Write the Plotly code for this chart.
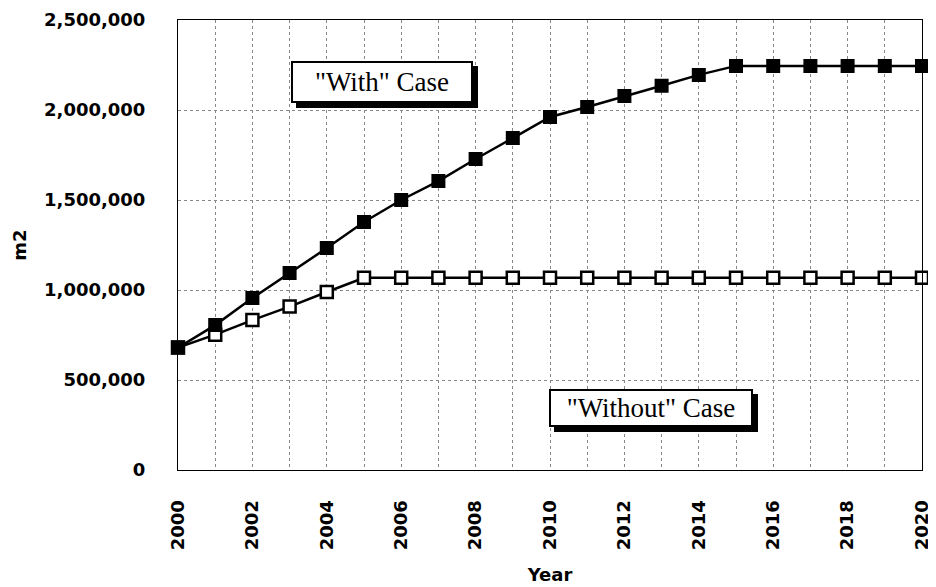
import plotly.graph_objects as go

years = list(range(2000, 2021))
with_case = [680000, 805000, 955000, 1094000, 1233000, 1378000, 1500000, 1605000,
             1728000, 1844000, 1961000, 2017000, 2078000, 2135000, 2195000, 2245000,
             2245000, 2245000, 2245000, 2245000, 2245000]
without_case = [680000, 752000, 833000, 908000, 989000, 1068000, 1068000, 1068000,
                1068000, 1068000, 1068000, 1068000, 1068000, 1068000, 1068000, 1068000,
                1068000, 1068000, 1068000, 1068000, 1068000]
x_ticks = list(range(2000, 2021, 2))
y_ticks = [0, 500000, 1000000, 1500000, 2000000, 2500000]

fig = go.Figure()
fig.add_trace(go.Scatter(
    x=years, y=without_case, mode="lines+markers", name='"Without" Case',
    line=dict(color="black", width=2.5),
    marker=dict(symbol="square", size=12, color="white", line=dict(color="black", width=2.5)),
    cliponaxis=False))
fig.add_trace(go.Scatter(
    x=years, y=with_case, mode="lines+markers", name='"With" Case',
    line=dict(color="black", width=2.5),
    marker=dict(symbol="square", size=12, color="black", line=dict(color="black", width=2)),
    cliponaxis=False))

boxes = [('"With" Case', 0.274, 0.862, 178, 38), ('"Without" Case', 0.636, 0.138, 200, 34)]
for text, bx, by, w, h in boxes:
    fig.add_annotation(xref="paper", yref="paper", x=bx, y=by, xanchor="center", yanchor="middle",
                       text=" ", showarrow=False,
                       width=w, height=h, bgcolor="black", bordercolor="black", borderwidth=2,
                       borderpad=0, xshift=5, yshift=-5)
    fig.add_annotation(xref="paper", yref="paper", x=bx, y=by, xanchor="center", yanchor="middle",
                       text=text, showarrow=False,
                       width=w, height=h, bgcolor="white", bordercolor="black", borderwidth=2,
                       borderpad=0, font=dict(family="Liberation Serif", size=27, color="black"))

fig.update_layout(
    width=928, height=579,
    margin=dict(l=170, r=14, t=12, b=117),
    paper_bgcolor="white", plot_bgcolor="white",
    showlegend=False,
    font=dict(family="DejaVu Sans", color="black"),
    xaxis=dict(range=[2000, 2020], tickvals=x_ticks, tickangle=-90, automargin=False,
               tickfont=dict(size=18, weight="bold"), ticklabelstandoff=22,
               showgrid=True, gridcolor="#888888", griddash="dot", gridwidth=1,
               minor=dict(dtick=1, showgrid=True, gridcolor="#888888", griddash="dot"),
               showline=True, linecolor="black", linewidth=1, mirror=True,
               ticks="", zeroline=False,
               title=dict(text="Year", font=dict(size=18, weight="bold"), standoff=19)),
    yaxis=dict(range=[0, 2500000], tickvals=y_ticks, tickformat=",d", automargin=False,
               tickfont=dict(size=18, weight="bold"), ticklabelstandoff=28,
               showgrid=True, gridcolor="#888888", griddash="dot", gridwidth=1,
               showline=True, linecolor="black", linewidth=1, mirror=True,
               ticks="", zeroline=False,
               title=dict(text="m2", font=dict(size=18, weight="bold"), standoff=12)),
)

fig.write_html("out.html")
